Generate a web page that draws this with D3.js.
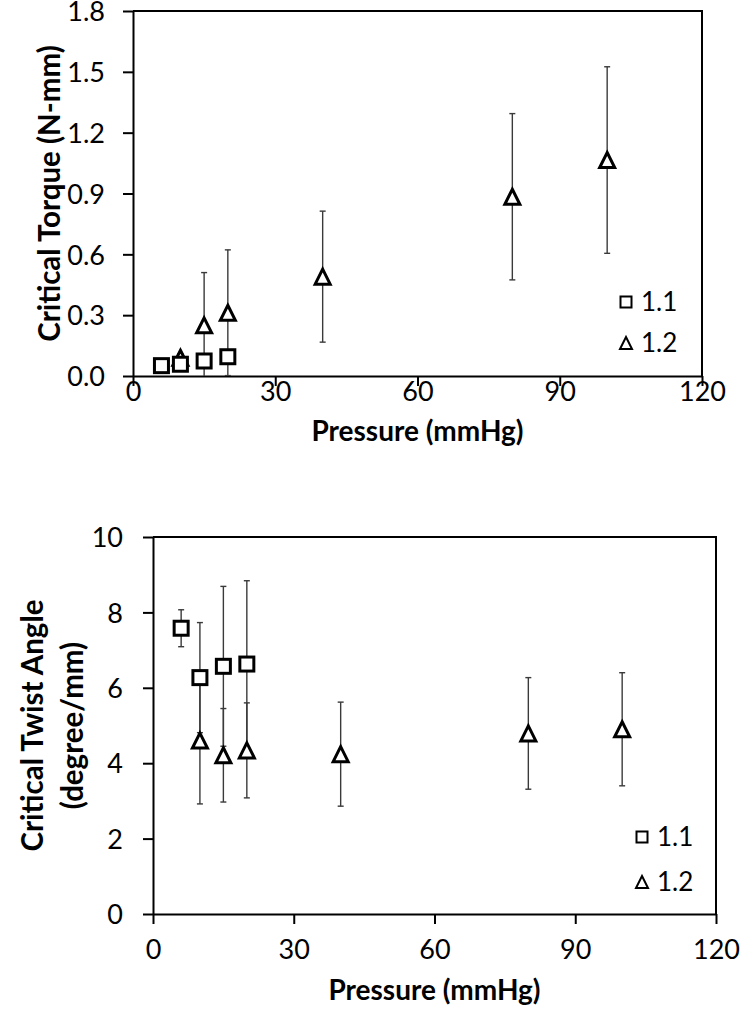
<!DOCTYPE html>
<html><head><meta charset="utf-8">
<script src="https://cdn.jsdelivr.net/npm/d3@7"></script>
<style>html,body{margin:0;padding:0;background:#fff;}svg{display:block;}</style>
</head><body>
<svg id="c" width="742" height="1012"></svg>
<script>
// ---- data ----
const pressure11 = [6, 10, 15, 20];
const torque11 = [0.051, 0.058, 0.074, 0.095];
const torque11Err = [0.006, 0.01, 0.016, 0.025];
const pressure12 = [10, 15, 20, 40, 80, 100];
const torque12 = [0.09, 0.25, 0.312, 0.49, 0.884, 1.065];
const torque12Err = [0.02, 0.26, 0.31, 0.323, 0.41, 0.46];
const twist11 = [7.58, 6.27, 6.57, 6.63];
const twist11Err = [0.49, 1.46, 2.12, 2.21];
const twist12 = [4.6, 4.21, 4.34, 4.24, 4.79, 4.9];
const twist12Err = [1.68, 1.24, 1.26, 1.38, 1.48, 1.5];
const xTicks = [0, 30, 60, 90, 120];
const torqueTicks = [0, 0.3, 0.6, 0.9, 1.2, 1.5, 1.8];
const twistTicks = [0, 2, 4, 6, 8, 10];
const seriesNames = ["1.1", "1.2"];

const FONT = "Lato, 'Carlito', 'Liberation Sans', sans-serif";
const svg = d3.select("#c");

function panel(cfg) {
  const g = svg.append("g");
  const x = d3.scaleLinear().domain([0, 120]).range([cfg.left, cfg.right]);
  const y = d3.scaleLinear().domain(cfg.yDomain).range([cfg.bottom, cfg.top]);

  // axes
  const xAxis = g.append("g").attr("transform", `translate(0,${cfg.bottom})`)
    .call(d3.axisBottom(x).tickValues(xTicks).tickSize(10).tickSizeOuter(0).tickFormat(d3.format("d")));
  const yAxis = g.append("g").attr("transform", `translate(${cfg.left},0)`)
    .call(d3.axisLeft(y).tickValues(cfg.yTicks).tickSize(10).tickSizeOuter(0).tickFormat(cfg.yFmt));
  [xAxis, yAxis].forEach(a => {
    a.select(".domain").attr("stroke", "#000").attr("stroke-width", 2);
    a.selectAll(".tick line").attr("stroke", "#000").attr("stroke-width", 2);
    a.selectAll(".tick text").attr("fill", "#000").style("font-family", FONT).style("font-size", "27px");
  });
  xAxis.selectAll(".tick text").attr("y", cfg.xLabelDy).attr("dy", "0.35em");
  yAxis.selectAll(".tick text").attr("x", -cfg.yLabelGap).attr("dy", "0.36em");

  // frame top/right
  g.append("path")
    .attr("d", `M${cfg.left},${cfg.top}H${cfg.right}V${cfg.bottom}`)
    .attr("fill", "none").attr("stroke", "#000").attr("stroke-width", 2);

  // error bars
  const clipId = "clip" + cfg.id;
  svg.append("clipPath").attr("id", clipId).append("rect")
    .attr("x", cfg.left).attr("y", cfg.top).attr("width", cfg.right - cfg.left).attr("height", cfg.bottom - cfg.top);
  const eb = g.append("g").attr("clip-path", `url(#${clipId})`);
  function errorBars(xs, ys, es) {
    xs.forEach((xv, i) => {
      const cx = x(xv), y1 = y(ys[i] + es[i]), y0 = y(ys[i] - es[i]);
      eb.append("line").attr("x1", cx).attr("x2", cx).attr("y1", y0).attr("y2", y1)
        .attr("stroke", "#3a3a3a").attr("stroke-width", 1.4);
      [y0, y1].forEach(yy => eb.append("line").attr("x1", cx - 3).attr("x2", cx + 3).attr("y1", yy).attr("y2", yy)
        .attr("stroke", "#3a3a3a").attr("stroke-width", 1.4));
    });
  }
  errorBars(pressure11, cfg.v11, cfg.e11);
  errorBars(pressure12, cfg.v12, cfg.e12);

  // markers
  const tri = (cx, cy, s) => `M${cx},${cy - s / 2}L${cx + s / 2},${cy + s / 2}L${cx - s / 2},${cy + s / 2}Z`;
  g.append("g").selectAll("path").data(pressure12.map((p, i) => [p, cfg.v12[i]])).join("path")
    .attr("d", d => tri(x(d[0]), y(d[1]), 15))
    .attr("fill", "#fff").attr("stroke", "#000").attr("stroke-width", 3).attr("stroke-linejoin", "miter");
  g.append("g").selectAll("rect").data(pressure11.map((p, i) => [p, cfg.v11[i]])).join("rect")
    .attr("x", d => x(d[0]) - 7).attr("y", d => y(d[1]) - 7).attr("width", 14).attr("height", 14)
    .attr("fill", "#fff").attr("stroke", "#000").attr("stroke-width", 3);

  // legend
  const lg = g.append("g");
  lg.append("rect").attr("x", cfg.legX - 5.5).attr("y", cfg.legY1 - 5.5).attr("width", 11).attr("height", 11)
    .attr("fill", "#fff").attr("stroke", "#000").attr("stroke-width", 2);
  lg.append("path").attr("d", tri(cfg.legX, cfg.legY2, 12))
    .attr("fill", "#fff").attr("stroke", "#000").attr("stroke-width", 2);
  [cfg.legY1, cfg.legY2].forEach((ly, i) => lg.append("text")
    .attr("x", cfg.legX + 15).attr("y", ly).attr("dy", "0.36em")
    .style("font-family", FONT).style("font-size", "26px").text(seriesNames[i]));

  // axis titles
  g.append("text").attr("x", (cfg.left + cfg.right) / 2).attr("y", cfg.xTitleY).attr("dy", "0.35em")
    .attr("text-anchor", "middle").style("font-family", FONT).style("font-size", "28px").style("font-weight", "bold")
    .text("Pressure (mmHg)");
  const cy = (cfg.top + cfg.bottom) / 2;
  cfg.yTitle.forEach((t, i) => {
    g.append("text").attr("transform", `translate(${cfg.yTitleX[i]},${cy}) rotate(-90)`).attr("dy", "0.35em")
      .attr("text-anchor", "middle").style("font-family", FONT).style("font-size", "29.5px").style("font-weight", "bold")
      .text(t);
  });
}

panel({
  id: 1, left: 133, right: 702, top: 11, bottom: 376,
  yDomain: [0, 1.8], yTicks: torqueTicks, yFmt: d3.format(".1f"),
  v11: torque11, e11: torque11Err, v12: torque12, e12: torque12Err,
  xLabelDy: 16, yLabelGap: 28, xTitleY: 431,
  legX: 626, legY1: 302, legY2: 343,
  yTitle: ["Critical Torque (N-mm)"], yTitleX: [50]
});
panel({
  id: 2, left: 153, right: 716, top: 537, bottom: 914,
  yDomain: [0, 10], yTicks: twistTicks, yFmt: d3.format("d"),
  v11: twist11, e11: twist11Err, v12: twist12, e12: twist12Err,
  xLabelDy: 36, yLabelGap: 30, xTitleY: 990,
  legX: 642, legY1: 837, legY2: 882,
  yTitle: ["Critical Twist Angle", "(degree/mm)"], yTitleX: [33, 73]
});
</script>
</body></html>
